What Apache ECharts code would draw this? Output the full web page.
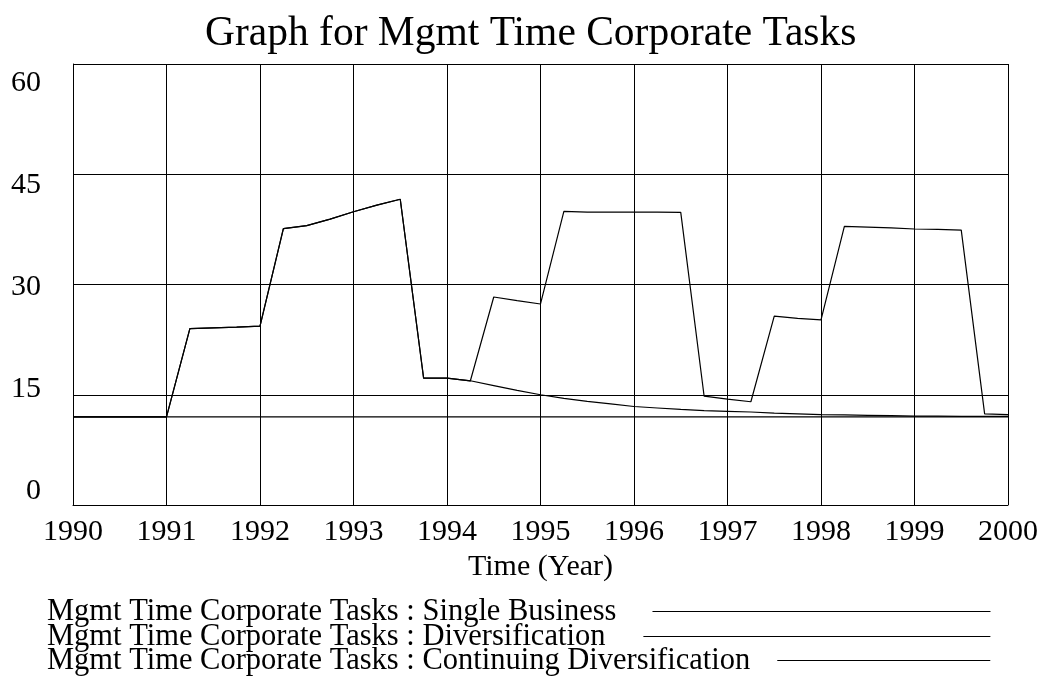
<!DOCTYPE html>
<html>
<head>
<meta charset="utf-8">
<script src="https://cdn.jsdelivr.net/npm/echarts@6/dist/echarts.min.js"></script>
<style>
html,body{margin:0;padding:0;background:#fff;}
#chart{width:1042px;height:693px;}
</style>
</head>
<body>
<div id="chart"></div>
<script>
const titleText = 'Graph for Mgmt Time Corporate Tasks';
const xAxisName = 'Time (Year)';
const yTicks = [0, 15, 30, 45, 60];
const seriesNames = [
  'Mgmt Time Corporate Tasks : Single Business',
  'Mgmt Time Corporate Tasks : Diversification',
  'Mgmt Time Corporate Tasks : Continuing Diversification'
];
const times = [1990, 1990.25, 1990.5, 1990.75, 1991, 1991.25, 1991.5, 1991.75, 1992, 1992.25, 1992.5, 1992.75,
  1993, 1993.25, 1993.5, 1993.75, 1994, 1994.25, 1994.5, 1994.75, 1995, 1995.25, 1995.5, 1995.75,
  1996, 1996.25, 1996.5, 1996.75, 1997, 1997.25, 1997.5, 1997.75, 1998, 1998.25, 1998.5, 1998.75,
  1999, 1999.25, 1999.5, 1999.75, 2000];
const singleBusiness = [12, 12, 12, 12, 12, 12, 12, 12, 12, 12, 12, 12, 12, 12, 12, 12, 12, 12, 12, 12, 12,
  12, 12, 12, 12, 12, 12, 12, 12, 12, 12, 12, 12, 12, 12, 12, 12, 12, 12, 12, 12];
const diversification = [12, 12, 12, 12, 12, 24.0, 24.1, 24.2, 24.35, 37.6, 38.0, 38.9, 39.9, 40.8, 41.6,
  17.25, 17.25, 16.9, 16.25, 15.6, 15.0, 14.5, 14.1, 13.75, 13.4, 13.2, 13.0, 12.85, 12.75, 12.65, 12.5,
  12.4, 12.3, 12.25, 12.2, 12.15, 12.1, 12.1, 12.07, 12.05, 12.05];
const continuingDiversification = [12, 12, 12, 12, 12, 24.0, 24.1, 24.2, 24.35, 37.6, 38.0, 38.9, 39.9, 40.8, 41.6,
  17.25, 17.25, 16.9, 28.3, 27.8, 27.35, 39.95, 39.85, 39.85, 39.86, 39.85, 39.82, 14.8, 14.4, 14.05, 25.7,
  25.4, 25.2, 37.9, 37.8, 37.7, 37.55, 37.5, 37.4, 12.4, 12.3];

const FONT = 'Liberation Serif, Times New Roman, serif';
const allValues = [singleBusiness, diversification, continuingDiversification];
const pairs = vals => times.map((t, i) => [t, vals[i]]);

const legendTops = [596, 621, 645];
const legendWidths = [338, 347, 213];
const legendPads = [31, 33, 22];

const chart = echarts.init(document.getElementById('chart'), null, {renderer: 'canvas'});
chart.setOption({
  backgroundColor: '#fff',
  animation: false,
  title: {
    text: titleText,
    left: 205,
    top: 13,
    padding: 0,
    textStyle: {fontFamily: FONT, fontSize: 41.5, fontWeight: 'normal', color: '#000'}
  },
  legend: seriesNames.map((n, i) => ({
    data: [n],
    left: 47,
    top: legendTops[i],
    padding: 0,
    align: 'right',
    icon: 'rect',
    itemWidth: legendWidths[i],
    itemHeight: 1.2,
    selectedMode: false,
    itemStyle: {color: '#000'},
    textStyle: {fontFamily: FONT, fontSize: 30.5, color: '#000', padding: [0, legendPads[i], 0, 0]}
  })),
  grid: {left: 73, right: 34, top: 64, bottom: 188, containLabel: false},
  xAxis: {
    type: 'value', min: 1990, max: 2000, interval: 1,
    name: xAxisName, nameLocation: 'middle', nameGap: 44,
    nameTextStyle: {fontFamily: FONT, fontSize: 30, color: '#000'},
    axisLine: {show: true, lineStyle: {color: '#000', width: 1}},
    axisTick: {show: false},
    axisLabel: {fontFamily: FONT, fontSize: 30, color: '#000', margin: 12,
      showMinLabel: true, showMaxLabel: true, formatter: v => String(v)},
    splitLine: {show: true, lineStyle: {color: '#000', width: 1}}
  },
  yAxis: [{
    type: 'value', min: 0, max: 60, interval: 15, position: 'left',
    axisLine: {show: true, lineStyle: {color: '#000', width: 1}},
    axisTick: {show: false},
    axisLabel: {show: false},
    splitLine: {show: true, lineStyle: {color: '#000', width: 1}}
  }, {
    type: 'value', min: -2.1, max: 62.8, position: 'left', offset: 0,
    axisLine: {show: false}, axisTick: {show: false}, splitLine: {show: false},
    axisLabel: {show: true, customValues: yTicks, fontFamily: FONT, fontSize: 30, color: '#000', margin: 32,
      formatter: v => String(v)}
  }],
  series: seriesNames.map((n, i) => ({
    name: n, type: 'line', yAxisIndex: 0, data: pairs(allValues[i]),
    symbol: 'none', showSymbol: false, smooth: false,
    lineStyle: {color: '#000', width: 1.2},
    itemStyle: {color: '#000'},
    z: 3 + i
  }))
});
</script>
</body>
</html>
